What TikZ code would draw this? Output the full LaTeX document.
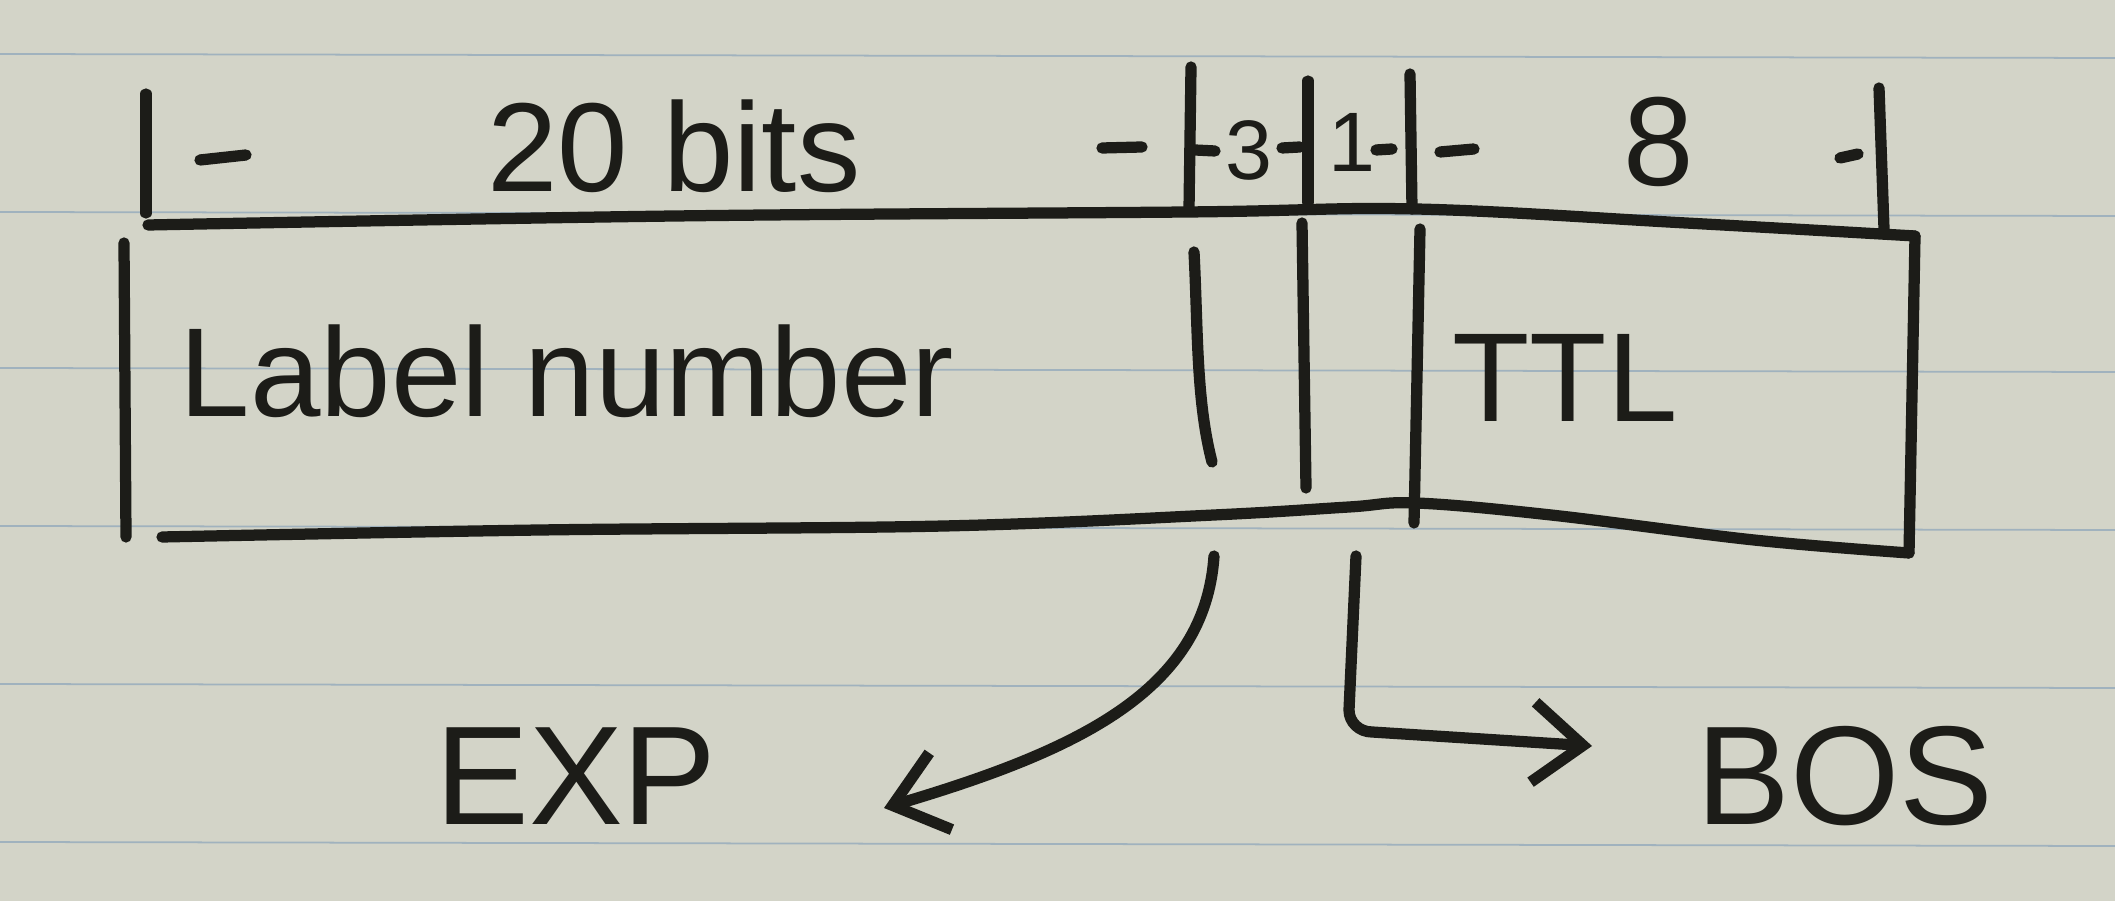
\documentclass[tikz,border=0pt]{standalone}
\usepackage{fontspec}
\setmainfont{Liberation Sans}
\usetikzlibrary{arrows.meta}
\definecolor{paper}{RGB}{211,212,200}
\definecolor{rule}{RGB}{160,178,190}
\definecolor{ink}{RGB}{28,28,24}
\tikzset{
  pen/.style={draw=ink, line width=3.2pt, line cap=round, line join=round},
  hand/.style={text=ink, inner sep=0pt, font=\fontsize{36}{36}\selectfont},
  small/.style={text=ink, inner sep=0pt, font=\fontsize{24}{24}\selectfont},
  barb/.style={-{Straight Barb[length=5mm,width=8mm,line width=3.2pt]}}
}
\begin{document}
\begin{tikzpicture}[x=0.01cm,y=-0.01cm]
\fill[paper] (0,0) rectangle (2115,901);
\useasboundingbox (0,0) rectangle (2115,901);
% ruled lines
\foreach \yy in {54,212,368,526,684,842}
  \draw[rule, line width=0.5pt] (0,\yy) -- (2115,\yy+4);

% top dimension ticks
\draw[pen] (146,94) -- (146,213);
\draw[pen] (1191,67) -- (1189,209);
\draw[pen] (1308,81) -- (1308,202);
\draw[pen] (1410,74) -- (1412,209);
\draw[pen] (1879,88) -- (1884,229);
% top line
\draw[pen] plot[smooth, tension=0.6] coordinates {(148,225) (675,216) (1187,212) (1416,209) (1686,223) (1915,236)};

% dimension dashes
\draw[pen] (200,160) -- (246,155);
\draw[pen] (1102,148) -- (1142,147);
\draw[pen] (1195,150) -- (1215,151);
\draw[pen] (1282,148) -- (1300,147);
\draw[pen] (1376,150) -- (1392,149);
\draw[pen] (1440,152) -- (1474,149);
\draw[pen] (1840,158) -- (1858,154);

% dimension labels
\node[hand] (bits20) at (674,146) {20 bits};
\node[small] (three) at (1249,150) {3};
\node[small] (one) at (1352,142) {1};
\node[hand] (eight) at (1659,142) {8};

% box
\draw[pen] (124,243) -- (126,537);
\draw[pen] plot[smooth, tension=0.6] coordinates {(162,537) (540,530) (944,526) (1214,515) (1349,507) (1416,503) (1551,515) (1754,540) (1909,553)};
\draw[pen] (1915,236) -- (1909,553);
% dividers
\draw[pen] (1194,252) .. controls (1198,330) and (1196,400) .. (1212,462);
\draw[pen] (1302,223) -- (1306,488);
\draw[pen] (1420,229) -- (1414,523);

% field labels
\node[hand] (label) at (567,371) {Label number};
\node[hand] (ttl) at (1565,378) {TTL};

% bottom labels
\node[hand, font=\fontsize{40}{40}\selectfont] (exp) at (576,776) {EXP};
\node[hand, font=\fontsize{40}{40}\selectfont] (bos) at (1845,776) {BOS};

% arrows
\coordinate (expfrom) at (1214,556);
\coordinate (expto) at (884,808);
\coordinate (bosfrom) at (1356,556);
\coordinate (bosto) at (1592,746);
\draw[pen, barb] (expfrom) .. controls (1205,690) and (1080,750) .. (expto);
\draw[pen, barb] (bosfrom) -- (1349,710) to[out=-90,in=180] (1372,732) -- (bosto);
\end{tikzpicture}
\end{document}
